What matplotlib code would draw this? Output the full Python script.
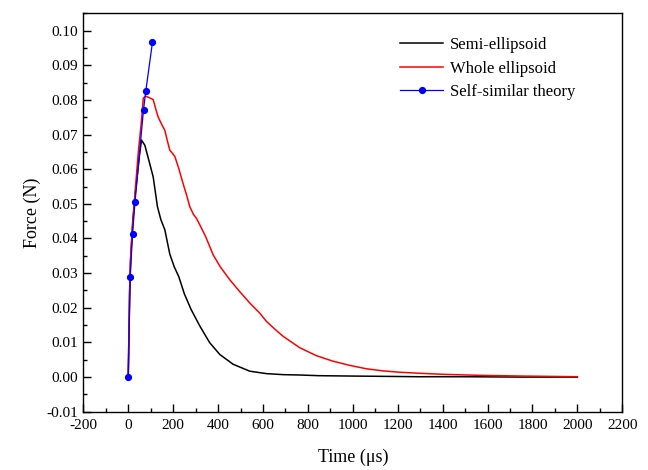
import matplotlib

matplotlib.use("Agg")
import matplotlib.pyplot as plt
from matplotlib.ticker import MultipleLocator

# values
semi_t = [0, 3, 6, 10, 20, 30, 40, 50, 59, 74, 92, 111, 130, 145, 163, 185,
          205, 225, 250, 280, 319, 363, 408, 467, 541, 615, 690, 763, 850,
          985, 1150, 1296, 1500, 1750, 2000]
semi_f = [0.0, 0.012, 0.024, 0.033, 0.045, 0.052, 0.058, 0.064, 0.0684,
          0.0669, 0.0625, 0.0578, 0.0492, 0.0455, 0.0425, 0.0355, 0.0318,
          0.0290, 0.0240, 0.0195, 0.0147, 0.0099, 0.0065, 0.0037, 0.0017,
          0.0010, 0.0007, 0.0006, 0.0004, 0.0003, 0.0002, 0.0001, 0.0001,
          0.0, 0.0]

whole_t = [0, 3, 6, 10, 18, 30, 45, 59, 67, 77, 95, 111, 122, 133, 150, 163,
           175, 185, 198, 208, 225, 244, 260, 274, 290, 304, 326, 345, 378,
           410, 452, 496, 541, 585, 615, 650, 689, 763, 837, 911, 985, 1060,
           1133, 1207, 1296, 1400, 1563, 1750, 2000]
whole_f = [0.0, 0.013, 0.025, 0.034, 0.0425, 0.053, 0.065, 0.074, 0.0805,
           0.0811, 0.0806, 0.0801, 0.0775, 0.0751, 0.0728, 0.0712, 0.0680,
           0.0655, 0.0645, 0.0636, 0.0602, 0.0559, 0.0525, 0.0492, 0.0470,
           0.0458, 0.0430, 0.0405, 0.0353, 0.0318, 0.0281, 0.0247, 0.0214,
           0.0185, 0.0161, 0.0140, 0.0118, 0.0085, 0.0062, 0.0046, 0.0034,
           0.0024, 0.0018, 0.0014, 0.0011, 0.0008, 0.0005, 0.0003, 0.0001]

theory_t = [0, 9, 19, 30, 68, 78, 108]
theory_f = [0.0, 0.029, 0.0412, 0.0505, 0.0772, 0.0825, 0.0967]

plt.rcParams["font.family"] = ["Liberation Serif", "DejaVu Serif"]
plt.rcParams["axes.unicode_minus"] = False

fig = plt.figure(figsize=(6.48, 4.70), dpi=100)
ax = fig.add_axes([0.1286, 0.124, 0.8317, 0.8477])

ax.plot(semi_t, semi_f, color="black", lw=1.1, label="Semi-ellipsoid")
ax.plot(whole_t, whole_f, color="#ff0000", lw=1.1, label="Whole ellipsoid")
ax.plot(theory_t, theory_f, color="#0000ff", lw=0.9, marker="o", ms=4.2,
        label="Self-similar theory")

ax.set_xlim(-200, 2200)
ax.set_ylim(-0.01, 0.105)
ax.xaxis.set_major_locator(MultipleLocator(200))
ax.xaxis.set_minor_locator(MultipleLocator(100))
ax.yaxis.set_major_locator(MultipleLocator(0.01))
ax.yaxis.set_minor_locator(MultipleLocator(0.005))
ax.yaxis.set_major_formatter(plt.FuncFormatter(lambda v, p: f"{v:.2f}"))
ax.tick_params(which="major", direction="in", length=6, width=1.0,
               labelsize=11, top=False, right=False)
ax.tick_params(which="minor", direction="in", length=3, width=1.0,
               top=False, right=False)
ax.tick_params(axis="x", pad=5)
for s in ax.spines.values():
    s.set_linewidth(1.0)

ax.set_xlabel("Time (\u03bcs)", fontsize=13, labelpad=12)
ax.set_ylabel("Force (N)", fontsize=13, labelpad=4)

ax.legend(loc="upper left", bbox_to_anchor=(0.5876, 0.94), frameon=False,
          fontsize=12, handlelength=2.6, handletextpad=0.4, labelspacing=0.45,
          borderaxespad=0, borderpad=0, numpoints=1)

fig.savefig("out.png", dpi=100)
